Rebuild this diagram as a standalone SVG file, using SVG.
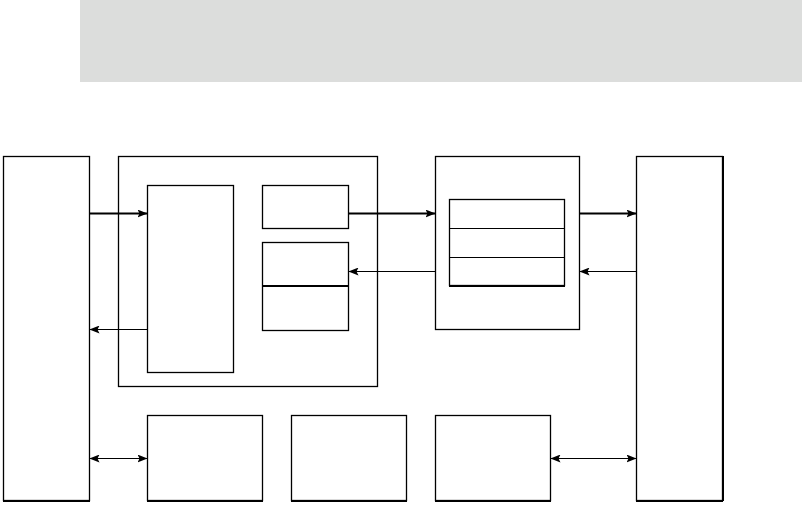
<svg xmlns="http://www.w3.org/2000/svg" width="802" height="505" viewBox="0 0 802 505">
<style>
.b{fill:#fff;stroke:#000;stroke-width:1.3}
.thin{stroke:#000;stroke-width:1;fill:none}
.thick{stroke:#000;stroke-width:2.2;fill:none}
.edge{stroke:#000;stroke-width:2;fill:none}
</style>
<defs>
<marker id="ah" viewBox="0 0 10 8" refX="10" refY="4" markerWidth="10" markerHeight="8" markerUnits="userSpaceOnUse" orient="auto-start-reverse">
<path d="M0,0 L10,4 L0,8 L2,4 Z" fill="#000"/>
</marker>
</defs>
<rect id="banner" x="80" y="0" width="722" height="82" fill="#dcdddc"/>
<g id="left-bar"><rect class="b" x="3.5" y="156.5" width="86" height="344"/><line class="edge" x1="3" y1="501" x2="90" y2="501"/></g>
<g id="right-bar"><rect class="b" x="636.5" y="156.5" width="86" height="344"/><line class="edge" x1="723" y1="156" x2="723" y2="501"/><line class="edge" x1="636" y1="501" x2="723" y2="501"/></g>
<g id="outer-block"><rect class="b" x="118.5" y="156.5" width="259" height="230"/></g>
<g id="inner-left"><rect class="b" x="147.5" y="185.5" width="86" height="187"/></g>
<g id="inner-top"><rect class="b" x="262.5" y="185.5" width="86" height="43"/></g>
<g id="inner-split"><rect class="b" x="262.5" y="242.5" width="86" height="88"/><line x1="262.5" y1="286" x2="348.5" y2="286" stroke="#000" stroke-width="2"/></g>
<g id="mid-block"><rect class="b" x="435.5" y="156.5" width="144" height="173"/></g>
<g id="stack"><rect class="b" x="449.5" y="199.5" width="115" height="86"/><line class="thin" x1="449.5" y1="228.5" x2="564.5" y2="228.5"/><line class="thin" x1="449.5" y1="257.5" x2="564.5" y2="257.5"/><line class="edge" x1="449" y1="286" x2="565" y2="286"/></g>
<g id="bottom-1"><rect class="b" x="147.5" y="415.5" width="115" height="85"/><line class="edge" x1="147" y1="501" x2="263" y2="501"/></g>
<g id="bottom-2"><rect class="b" x="291.5" y="415.5" width="115" height="85"/><line class="edge" x1="291" y1="501" x2="407" y2="501"/></g>
<g id="bottom-3"><rect class="b" x="435.5" y="415.5" width="115" height="85"/><line class="edge" x1="435" y1="501" x2="551" y2="501"/></g>
<g id="connectors">
<line class="thick" x1="89.5" y1="213.5" x2="147.5" y2="213.5" marker-end="url(#ah)"/>
<line class="thin" x1="147.5" y1="329.5" x2="89.5" y2="329.5" marker-end="url(#ah)"/>
<line class="thick" x1="348.5" y1="213.5" x2="435.5" y2="213.5" marker-end="url(#ah)"/>
<line class="thin" x1="435.5" y1="271.5" x2="348.5" y2="271.5" marker-end="url(#ah)"/>
<line class="thick" x1="579.5" y1="213.5" x2="636.5" y2="213.5" marker-end="url(#ah)"/>
<line class="thin" x1="636.5" y1="271.5" x2="579.5" y2="271.5" marker-end="url(#ah)"/>
<line class="thin" x1="89.5" y1="458.5" x2="147.5" y2="458.5" marker-start="url(#ah)" marker-end="url(#ah)"/>
<line class="thin" x1="550.5" y1="458.5" x2="636.5" y2="458.5" marker-start="url(#ah)" marker-end="url(#ah)"/>
</g>
</svg>
